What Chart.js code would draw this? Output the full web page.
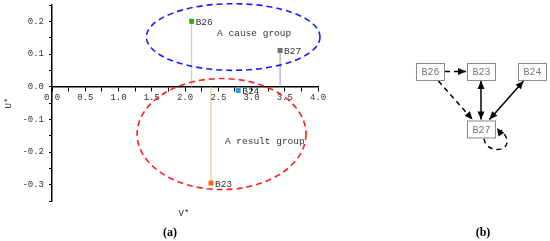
<!DOCTYPE html>
<html>
<head>
<meta charset="utf-8">
<script src="https://cdn.jsdelivr.net/npm/chart.js@4.4.1/dist/chart.umd.min.js"></script>
<style>
  body { margin: 0; background: #fff; width: 550px; height: 241px; position: relative; overflow: hidden; }
  canvas { position: absolute; top: 0; }
  .lbl { position: absolute; font-family: "Liberation Serif", serif; color: #000; transform: translate(-50%, -50%); white-space: nowrap; }
</style>
</head>
<body>
<canvas id="chartA" width="340" height="241" style="left:0"></canvas>
<canvas id="chartB" width="160" height="241" style="left:390px"></canvas>
<div class="lbl" style="left:184px; top:214px; font-family:'Liberation Mono',monospace; font-size:9px; color:#222">V*</div>
<div class="lbl" style="left:170px; top:232px; font-size:12px; font-weight:bold">(a)</div>
<div class="lbl" style="left:483px; top:232px; font-size:12px; font-weight:bold">(b)</div>
<script>
// (a) V*-U* scatter
const factorNames = ['B26', 'B27', 'B24', 'B23'];
const vStar = [2.10, 3.43, 2.80, 2.39];
const uStar = [0.200, 0.111, -0.012, -0.295];
const markerColors = ['#2db400', '#707070', '#3399dd', '#ff6600'];
const stemColors = ['#a6e08e', '#9a9a9a', '#9cc8ea', '#f8b890'];

// groups (dashed ellipses), in data units
const groupNames = ['A cause group', 'A result group'];
const groupCx = [2.725, 2.55];
const groupCy = [0.152, -0.145];
const groupRx = [1.305, 1.27];
const groupRy = [0.102, 0.170];
const groupColors = ['#1a1aff', '#ff2020'];
const groupTextX = [3.04, 3.20];
const groupTextY = [0.162, -0.167];

// (b) relationship diagram
const nodeNames = ['B26', 'B23', 'B24', 'B27'];
const nodeCol = [0, 1, 2, 1];
const nodeRow = [1, 1, 1, 0];
const edgeFrom = ['B26', 'B26', 'B23', 'B24', 'B27'];
const edgeTo = ['B23', 'B27', 'B27', 'B27', 'B27'];
const edgeDashed = [true, true, false, false, true];
const edgeBoth = [false, false, true, true, false];

const monoFont = { family: "'Liberation Mono', monospace", size: 9 };

function arrowHead(ctx, x, y, ang) {
  ctx.save();
  ctx.translate(x, y);
  ctx.rotate(ang);
  ctx.beginPath();
  ctx.moveTo(0, 0);
  ctx.lineTo(-8, -3.5);
  ctx.lineTo(-8, 3.5);
  ctx.closePath();
  ctx.fillStyle = '#000';
  ctx.fill();
  ctx.restore();
}

const plotExtras = {
  id: 'plotExtras',
  beforeDatasetsDraw(chart) {
    const { ctx, scales: { x, y } } = chart;
    ctx.save();
    ctx.lineWidth = 1;
    vStar.forEach((v, i) => {
      ctx.strokeStyle = stemColors[i];
      ctx.beginPath();
      ctx.moveTo(x.getPixelForValue(v), y.getPixelForValue(0));
      ctx.lineTo(x.getPixelForValue(v), y.getPixelForValue(uStar[i]));
      ctx.stroke();
    });
    ctx.restore();
  },
  afterDatasetsDraw(chart) {
    const { ctx, scales: { x, y } } = chart;
    ctx.save();
    ctx.font = "9.5px 'Liberation Mono', monospace";
    ctx.fillStyle = '#333';
    ctx.textBaseline = 'middle';
    factorNames.forEach((n, i) => {
      ctx.fillText(n, x.getPixelForValue(vStar[i]) + 4, y.getPixelForValue(uStar[i]) + 1);
    });
    groupNames.forEach((g, i) => {
      const cx = x.getPixelForValue(groupCx[i]);
      const cy = y.getPixelForValue(groupCy[i]);
      const rx = Math.abs(x.getPixelForValue(groupCx[i] + groupRx[i]) - cx);
      const ry = Math.abs(y.getPixelForValue(groupCy[i] + groupRy[i]) - cy);
      ctx.strokeStyle = groupColors[i];
      ctx.lineWidth = 1.6;
      ctx.setLineDash([6, 4]);
      ctx.beginPath();
      ctx.ellipse(cx, cy, rx, ry, 0, 0, Math.PI * 2);
      ctx.stroke();
      ctx.setLineDash([]);
      ctx.textAlign = 'center';
      ctx.fillStyle = '#333';
      ctx.fillText(g, x.getPixelForValue(groupTextX[i]), y.getPixelForValue(groupTextY[i]));
    });
    ctx.restore();
  }
};

new Chart(document.getElementById('chartA'), {
  type: 'scatter',
  data: {
    datasets: [{
      data: vStar.map((v, i) => ({ x: v, y: uStar[i] })),
      backgroundColor: markerColors,
      borderWidth: 0,
      pointStyle: 'rect',
      pointRadius: 3.5
    }]
  },
  options: {
    responsive: false,
    animation: false,
    layout: { padding: { top: 5, right: 22, bottom: 40, left: 0 } },
    plugins: { legend: { display: false }, tooltip: { enabled: false } },
    scales: {
      x: {
        type: 'linear',
        position: { y: 0 },
        min: 0, max: 4,
        ticks: {
          stepSize: 0.25, autoSkip: false, maxRotation: 0, padding: 2,
          font: monoFont, color: '#333',
          callback: v => Math.abs(Math.round(v * 2) - v * 2) < 1e-6 ? v.toFixed(1) : ''
        },
        grid: { drawOnChartArea: false, drawTicks: true, tickLength: 4, color: '#000' },
        border: { color: '#000', width: 1.5 }
      },
      y: {
        min: -0.35, max: 0.25,
        ticks: {
          stepSize: 0.05, autoSkip: false, padding: 5,
          font: monoFont, color: '#333',
          callback: v => (Math.abs(Math.round(v * 10) - v * 10) < 1e-6 && Math.abs(v) < 0.3 + 1e-6) ? v.toFixed(1) : ''
        },
        grid: { drawOnChartArea: false, drawTicks: true, tickLength: 3, color: '#000' },
        border: { color: '#000', width: 1.5 },
        title: { display: true, text: 'U*', font: monoFont, color: '#333', padding: { top: 3, bottom: 0 } },
        afterFit: s => { s.width = 52; s.paddingTop = 0; s.paddingBottom = 0; }
      }
    }
  },
  plugins: [plotExtras]
});

// (b)
const diagram = {
  id: 'diagram',
  afterDatasetsDraw(chart) {
    const { ctx, scales: { x, y } } = chart;
    const hw = 14, hh = 8.5;
    const pos = {};
    nodeNames.forEach((n, i) => {
      pos[n] = { x: x.getPixelForValue(nodeCol[i]), y: y.getPixelForValue(nodeRow[i]) };
    });
    function clip(c, dx, dy) {
      const t = Math.min(dx ? (hw + 1) / Math.abs(dx) : Infinity, dy ? (hh + 1) / Math.abs(dy) : Infinity);
      return { x: c.x + dx * t, y: c.y + dy * t };
    }
    ctx.save();
    ctx.strokeStyle = '#000';
    ctx.lineWidth = 1.5;
    edgeFrom.forEach((f, i) => {
      const a = pos[f], b = pos[edgeTo[i]];
      ctx.setLineDash(edgeDashed[i] ? [5, 4] : []);
      if (f === edgeTo[i]) {
        const s = { x: a.x + 3, y: a.y + hh + 1 };
        const e = { x: a.x + hw + 2, y: a.y - 1 };
        const c1 = { x: a.x + 5, y: a.y + 28 };
        const c2 = { x: a.x + 40, y: a.y + 22 };
        ctx.beginPath();
        ctx.moveTo(s.x, s.y);
        ctx.bezierCurveTo(c1.x, c1.y, c2.x, c2.y, e.x + 4, e.y + 2);
        ctx.stroke();
        ctx.setLineDash([]);
        arrowHead(ctx, e.x, e.y, Math.atan2(e.y - c2.y + 8, e.x - c2.x + 14));
        return;
      }
      const dx = b.x - a.x, dy = b.y - a.y;
      const p1 = clip(a, dx, dy), p2 = clip(b, -dx, -dy);
      const ang = Math.atan2(dy, dx);
      ctx.beginPath();
      ctx.moveTo(p1.x, p1.y);
      ctx.lineTo(p2.x, p2.y);
      ctx.stroke();
      ctx.setLineDash([]);
      arrowHead(ctx, p2.x, p2.y, ang);
      if (edgeBoth[i]) arrowHead(ctx, p1.x, p1.y, ang + Math.PI);
    });
    ctx.setLineDash([]);
    ctx.font = "10px 'Liberation Mono', monospace";
    ctx.textAlign = 'center';
    ctx.textBaseline = 'middle';
    nodeNames.forEach(n => {
      const p = pos[n];
      ctx.fillStyle = '#fff';
      ctx.fillRect(p.x - hw, p.y - hh, hw * 2, hh * 2);
      ctx.strokeStyle = '#8a8a8a';
      ctx.lineWidth = 1;
      ctx.strokeRect(p.x - hw + 0.5, p.y - hh + 0.5, hw * 2, hh * 2);
      ctx.fillStyle = '#777';
      ctx.fillText(n, p.x + 0.5, p.y + 1);
    });
    ctx.restore();
  }
};

new Chart(document.getElementById('chartB'), {
  type: 'scatter',
  data: {
    datasets: [{ data: nodeCol.map((c, i) => ({ x: c, y: nodeRow[i] })), pointRadius: 0 }]
  },
  options: {
    responsive: false,
    animation: false,
    layout: { padding: 0 },
    plugins: { legend: { display: false }, tooltip: { enabled: false } },
    scales: {
      x: { display: false, min: -0.784, max: 2.353 },
      y: { display: false, min: -1.948, max: 2.243 }
    }
  },
  plugins: [diagram]
});
</script>
</body>
</html>
